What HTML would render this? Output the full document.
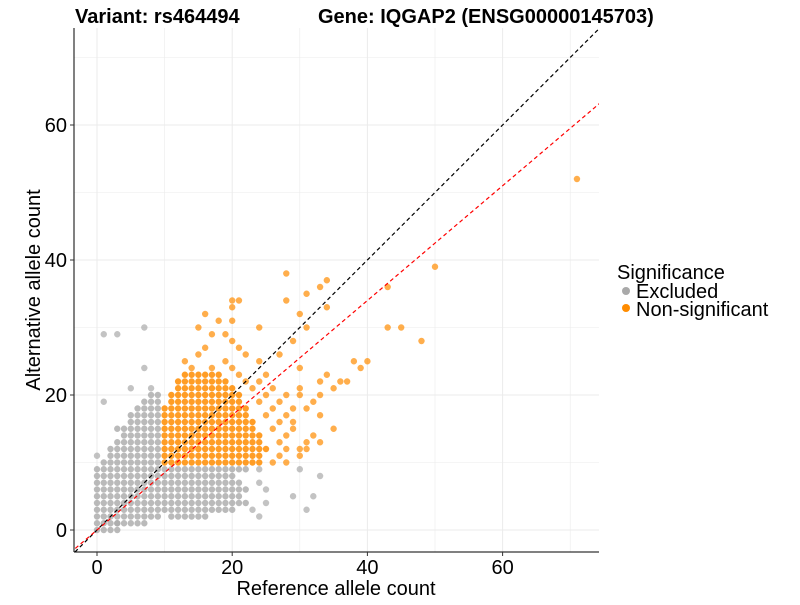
<!DOCTYPE html>
<html><head><meta charset="utf-8"><style>
body{margin:0;background:#fff;font-family:"Liberation Sans",Arial,sans-serif}
</style></head><body>
<svg id="c" width="800" height="600" font-family="Liberation Sans, Arial, sans-serif">
<text x="75" y="23" font-size="20" font-weight="bold">Variant: rs464494</text>
<text x="318" y="23" font-size="20" font-weight="bold">Gene: IQGAP2 (ENSG00000145703)</text>
<g id="grid"></g><g id="pts"></g><g id="lines"></g><g id="axes"></g>
<text x="336" y="595" font-size="20" text-anchor="middle">Reference allele count</text>
<text transform="translate(40,290) rotate(-90)" font-size="20" text-anchor="middle">Alternative allele count</text>
<text x="617" y="279" font-size="20">Significance</text>
<g><circle cx="626" cy="291" r="4" fill="#a9a9a9"/><text x="636" y="298" font-size="20">Excluded</text></g>
<g><circle cx="626" cy="308" r="4" fill="#ff8c00"/><text x="636" y="316" font-size="20">Non-significant</text></g>
</svg>
<script>
const xTicks=[0,20,40,60];
const yTicks=[0,20,40,60];
// rows: [y, xStart, xEnd]
const grayRows=[[0,0,3],[1,0,7],[2,0,9],[2,11,16],[3,0,9],[3,10,20],[4,0,9],[4,10,22],[5,0,9],[5,10,21],[6,0,9],[6,10,22],[7,0,9],[7,10,21],[8,0,9],[8,10,20],[9,0,9],[9,10,22],[10,1,9],[11,2,9],[12,2,9],[13,3,9],[14,4,9],[15,3,9],[16,5,9],[17,5,9],[18,6,9],[19,7,9],[20,8,9]];
const grayExtra=[[5,29],[9,30],[11,0],[19,1],[21,5],[21,8],[24,7],[29,1],[29,3],[30,7],[8,33],[5,32],[3,31],[2,24],[3,23],[4,25],[6,25],[7,24],[9,24],[1,3]];
const orangeRows=[[10,10,24],[11,10,24],[12,10,25],[13,10,24],[14,10,24],[15,10,23],[16,10,23],[17,10,22],[18,10,22],[19,11,21],[20,11,21],[21,12,20],[22,12,19],[23,13,18]];
const orangeExtra=[[30,15],[32,16],[33,20],[34,28],[35,31],[36,33],[37,34],[21,30],[22,33],[23,34],[24,30],[22,36],[25,38],[22,37],[19,32],[17,33],[15,35],[18,31],[27,16],[28,20],[26,22],[29,19],[30,24],[31,18],[31,20],[25,24],[26,27],[28,29],[38,28],[34,20],[34,21],[33,34],[32,30],[30,31],[52,71],[39,50],[36,43],[30,43],[30,45],[28,48],[25,40],[24,39],[20,33],[21,35],[12,31],[14,32],[11,30],[13,31],
[10,26],[10,28],[11,27],[12,28],[13,27],[14,28],[15,26],[16,27],[16,29],[17,25],[17,28],[18,26],[19,24],[19,27],[20,25],[20,28],[21,23],[21,26],[22,22],[22,24],[23,21],[23,25],[24,14],[24,17],[24,20],[25,13],[25,19],[26,15],[27,21],[29,17],[13,33],[12,30],[15,29],[18,29],[20,30]];
const X=v=>97+v*6.76, Y=v=>530-v*6.75;
const ns="http://www.w3.org/2000/svg";
function mk(p,t,a){const e=document.createElementNS(ns,t);for(const k in a)e.setAttribute(k,a[k]);p.appendChild(e);return e;}
const grid=document.getElementById('grid');
for(let v=-10;v<=80;v+=10){
 const x=X(v),y=Y(v);const w=v%20===0?1:0.6;
 if(x>74&&x<599){const l=mk(grid,'line',{x1:x,x2:x,y1:28,y2:552,stroke:'#ebebeb','stroke-width':w});
 
 }
 if(y>28&&y<552){const l=mk(grid,'line',{x1:74,x2:599,y1:y,y2:y,stroke:'#ebebeb','stroke-width':w});
 
 }
}
const pts=document.getElementById('pts');
function dot(x,y,c,op,name){const d=mk(pts,'circle',{cx:X(x),cy:Y(y),r:3.2,fill:c,'fill-opacity':op});
 
 }
grayRows.forEach(r=>{for(let x=r[1];x<=r[2];x++)dot(x,r[0],'#a9a9a9',0.8,'point-excluded');});
grayExtra.forEach(p=>dot(p[1],p[0],'#a9a9a9',0.7,'point-excluded'));
orangeRows.forEach(r=>{for(let x=r[1];x<=r[2];x++)dot(x,r[0],'#ff8c00',0.85,'point-non-significant');});
orangeExtra.forEach(p=>dot(p[1],p[0],'#ff8c00',0.7,'point-non-significant'));
const lines=document.getElementById('lines');
const cp=mk(lines,'clipPath',{id:'cl'});mk(cp,'rect',{x:74,y:28,width:525,height:524});
const l1=mk(lines,'line',{x1:X(-4),y1:Y(-4),x2:X(80),y2:Y(80),stroke:'#000','stroke-dasharray':'4,3','stroke-width':1.2,'clip-path':'url(#cl)'});


const l2=mk(lines,'line',{x1:X(-4),y1:Y(-4*0.85),x2:X(80),y2:Y(80*0.85),stroke:'#ff0000','stroke-dasharray':'4,3','stroke-width':1.2,'clip-path':'url(#cl)'});


const ax=document.getElementById('axes');
mk(ax,'line',{x1:74,x2:74,y1:28,y2:552,stroke:'#000'});
mk(ax,'line',{x1:74,x2:599,y1:552,y2:552,stroke:'#000'});
xTicks.forEach(v=>{mk(ax,'line',{x1:X(v),x2:X(v),y1:552,y2:556,stroke:'#333'});
 const t=mk(ax,'text',{x:X(v),y:574,'font-size':20,'text-anchor':'middle',fill:'#000'});t.textContent=v;
 
 });
yTicks.forEach(v=>{mk(ax,'line',{x1:70,x2:74,y1:Y(v),y2:Y(v),stroke:'#333'});
 const t=mk(ax,'text',{x:67,y:Y(v)+7,'font-size':20,'text-anchor':'end',fill:'#000'});t.textContent=v;
 
 });
</script>
</body></html>
